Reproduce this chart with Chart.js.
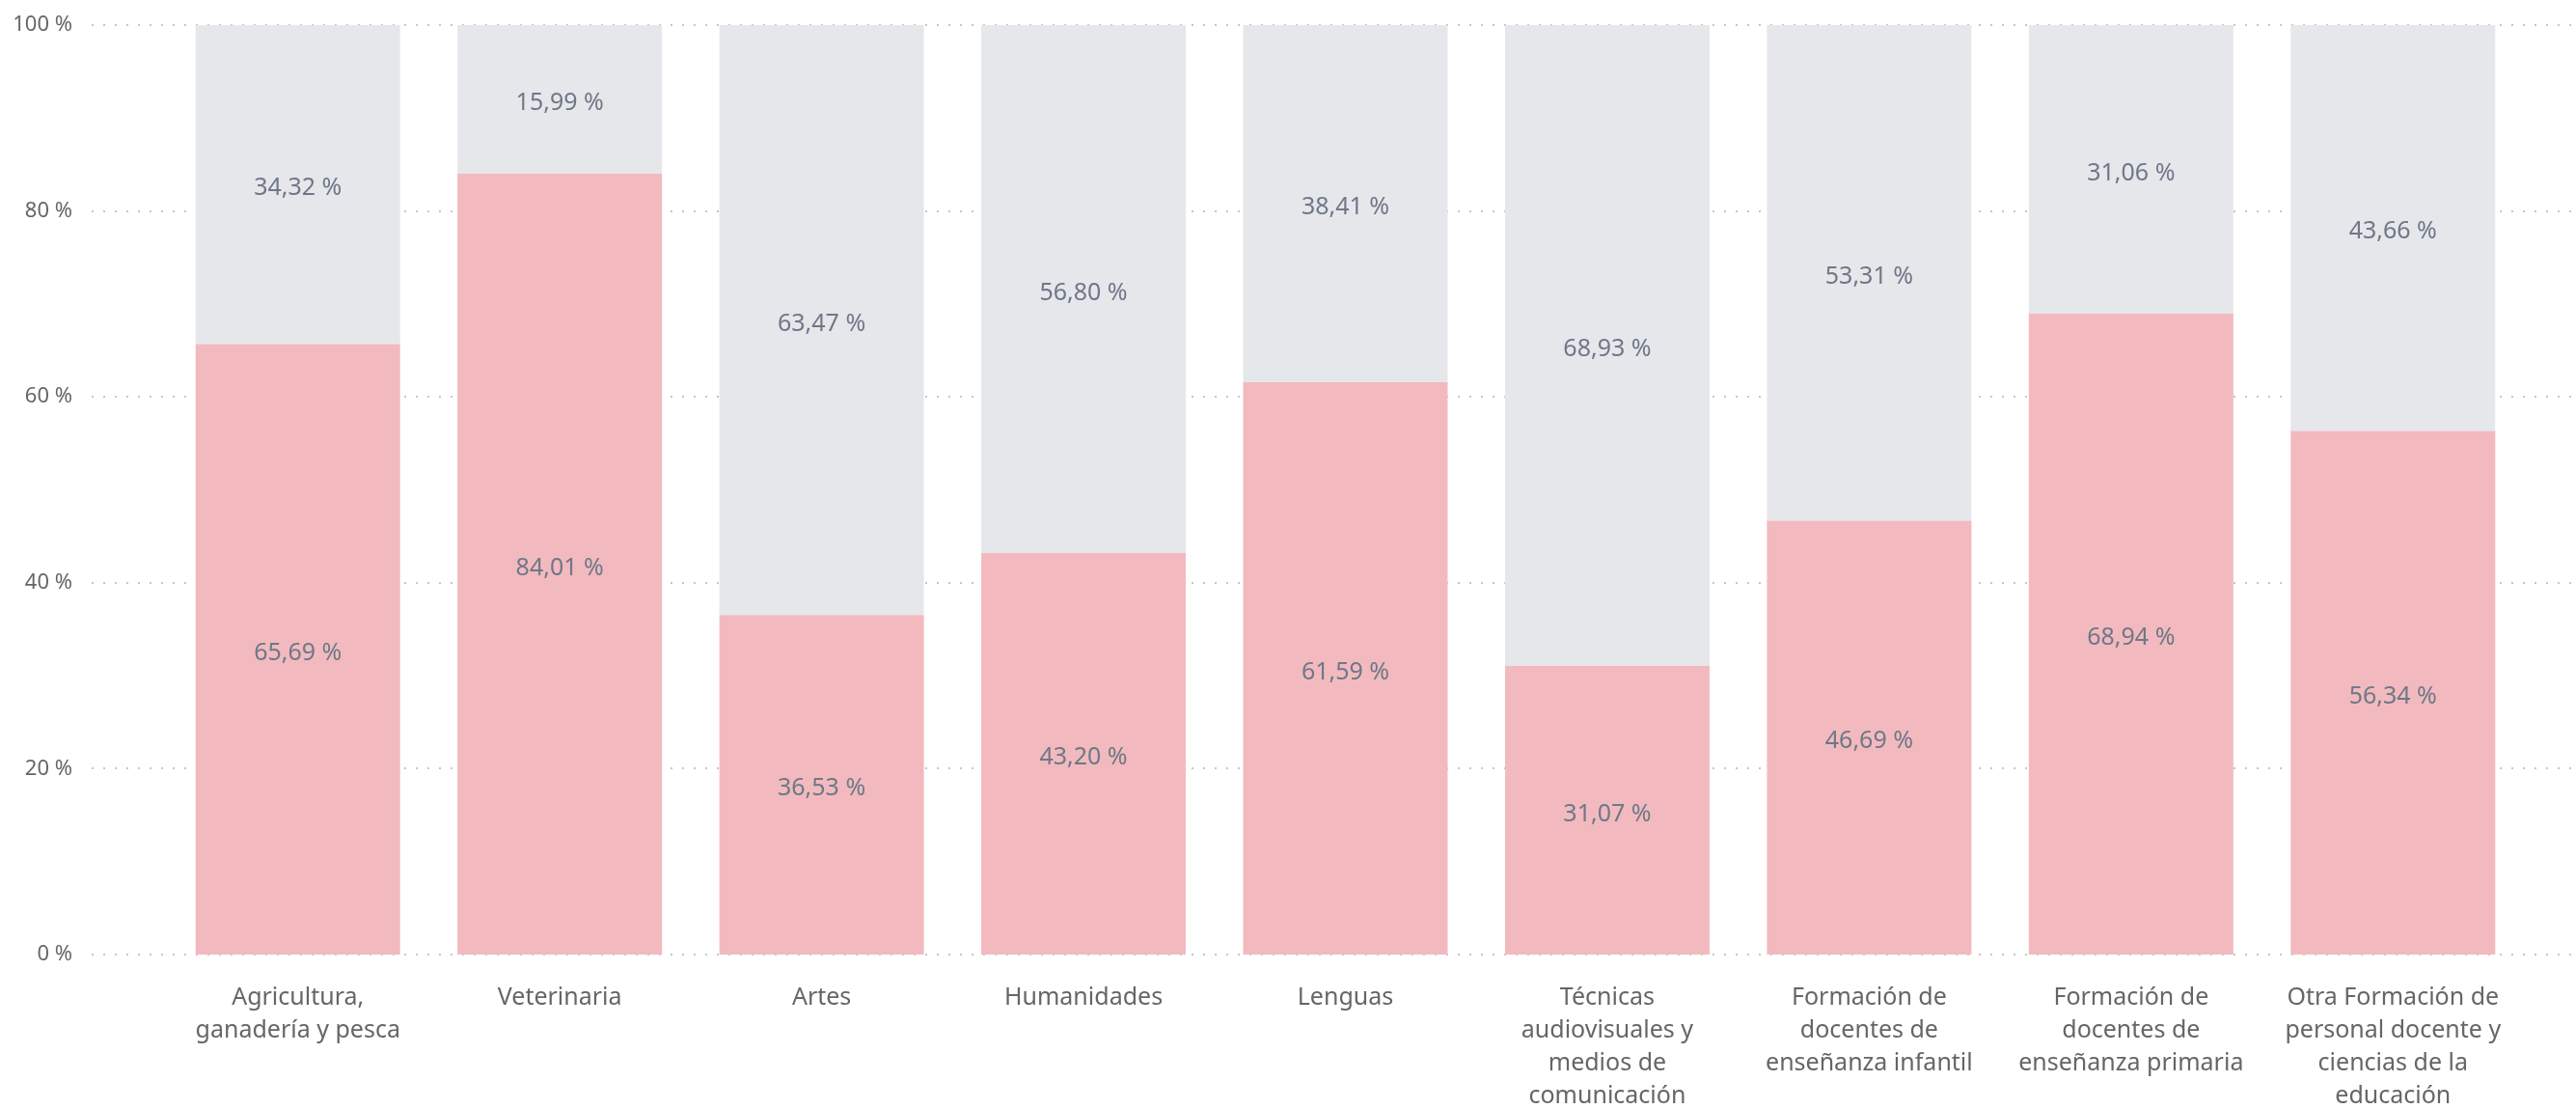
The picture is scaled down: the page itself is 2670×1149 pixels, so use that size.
<!DOCTYPE html>
<html>
<head>
<meta charset="utf-8">
<script src="https://cdn.jsdelivr.net/npm/chart.js@4"></script>
<style>
  html, body { margin: 0; padding: 0; background: #fff; }
  #wrap { width: 2670px; height: 1149px; position: relative; }
</style>
</head>
<body>
<div id="wrap"><canvas id="chart"></canvas></div>
<script>
const categories = [
  ["Agricultura,", "ganadería y pesca"],
  "Veterinaria",
  "Artes",
  "Humanidades",
  "Lenguas",
  ["Técnicas", "audiovisuales y", "medios de", "comunicación"],
  ["Formación de", "docentes de", "enseñanza infantil"],
  ["Formación de", "docentes de", "enseñanza primaria"],
  ["Otra Formación de", "personal docente y", "ciencias de la", "educación"]
];
const pinkValues = [65.69, 84.01, 36.53, 43.20, 61.59, 31.07, 46.69, 68.94, 56.34];
const grayValues = [34.32, 15.99, 63.47, 56.80, 38.41, 68.93, 53.31, 31.06, 43.66];
const yTicks = [0, 20, 40, 60, 80, 100];

const FONT = "'Noto Sans', 'Open Sans', sans-serif";

const fmt = (v) => v.toFixed(2).replace(".", ",") + " %";

// dotted gridlines that run past the plot area, like the original
const dottedGrid = {
  id: "dottedGrid",
  beforeDatasetsDraw(chart) {
    const { ctx } = chart;
    const y = chart.scales.y;
    ctx.save();
    ctx.strokeStyle = "#c6c6c6";
    ctx.lineWidth = 2;
    ctx.setLineDash([2, 10]);
    yTicks.forEach((t) => {
      const py = Math.round(y.getPixelForValue(t));
      ctx.beginPath();
      ctx.moveTo(95, py);
      ctx.lineTo(2666, py);
      ctx.stroke();
    });
    ctx.restore();
  }
};

// value labels in the middle of each segment
const segmentLabels = {
  id: "segmentLabels",
  afterDatasetsDraw(chart) {
    const { ctx } = chart;
    ctx.save();
    ctx.font = "25px " + FONT;
    ctx.fillStyle = "#6f7888";
    ctx.textAlign = "center";
    ctx.textBaseline = "middle";
    chart.data.datasets.forEach((ds, i) => {
      chart.getDatasetMeta(i).data.forEach((bar, j) => {
        const top = Math.max(bar.y, chart.chartArea.top);
        ctx.fillText(fmt(ds.data[j]), bar.x, (top + bar.base) / 2 + 4);
      });
    });
    ctx.restore();
  }
};

new Chart(document.getElementById("chart"), {
  type: "bar",
  data: {
    labels: categories,
    datasets: [
      {
        label: "A",
        data: pinkValues,
        backgroundColor: "#f2babf",
        categoryPercentage: 0.781,
        barPercentage: 1
      },
      {
        label: "B",
        data: grayValues,
        backgroundColor: "#e6e7eb",
        categoryPercentage: 0.781,
        barPercentage: 1
      }
    ]
  },
  options: {
    responsive: true,
    maintainAspectRatio: false,
    animation: false,
    layout: { padding: { top: 26, right: 54, bottom: 0, left: 0 } },
    plugins: {
      legend: { display: false },
      tooltip: { enabled: false }
    },
    scales: {
      x: {
        stacked: true,
        grid: { display: false, drawTicks: false },
        border: { display: false },
        ticks: {
          color: "#666666",
          font: { family: FONT, size: 25, lineHeight: 1.36 },
          padding: 28,
          maxRotation: 0,
          autoSkip: false
        },
        afterFit(scale) { scale.height = 160; }
      },
      y: {
        stacked: true,
        min: 0,
        max: 100,
        grid: { display: false, drawTicks: false },
        border: { display: false },
        ticks: {
          stepSize: 20,
          color: "#666666",
          font: { family: FONT, size: 22 },
          padding: 98,
          callback: (v) => v + " %"
        },
        afterFit(scale) {
          scale.width = 173;
          // tick padding only pushes the labels left, not the plot down
          scale.paddingTop = 14;
          scale.paddingBottom = 14;
        }
      }
    }
  },
  plugins: [dottedGrid, segmentLabels]
});
</script>
</body>
</html>
